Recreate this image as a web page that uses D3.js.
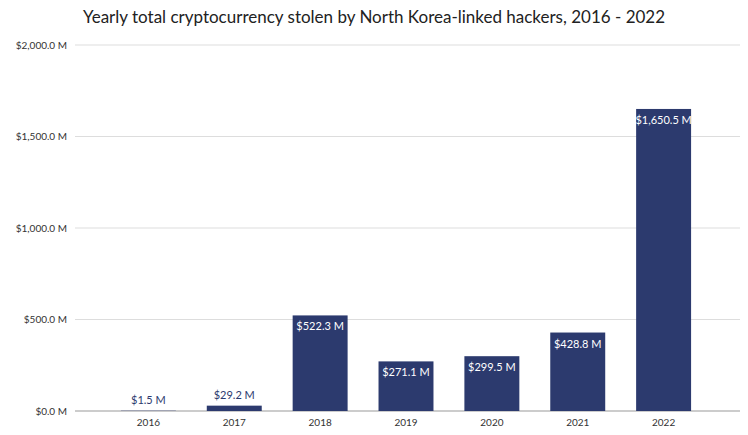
<!DOCTYPE html>
<html>
<head>
<meta charset="utf-8">
<script src="https://cdn.jsdelivr.net/npm/d3@7"></script>
<style>
  body { margin: 0; background: #fff; font-family: Lato, "Open Sans", sans-serif; }
</style>
</head>
<body>
<div id="chart"></div>
<script>
// data
var years = ["2016", "2017", "2018", "2019", "2020", "2021", "2022"];
var stolen = [1.5, 29.2, 522.3, 271.1, 299.5, 428.8, 1650.5];
var yTicks = [0, 500, 1000, 1500, 2000];

var width = 748, height = 435;
var margin = {top: 45, right: 8, bottom: 24, left: 75};

var svg = d3.select("#chart").append("svg")
    .attr("width", width).attr("height", height);

svg.append("text")
    .attr("x", width / 2).attr("y", 23)
    .attr("text-anchor", "middle")
    .style("font-size", "17px").style("fill", "#222")
    .text("Yearly total cryptocurrency stolen by North Korea-linked hackers, 2016 - 2022");

var x = d3.scaleBand().domain(years).range([90, 722]).padding(0.36);
var y = d3.scaleLinear().domain([0, 2000]).range([height - margin.bottom, margin.top]);

var fmt = function(v) { return "$" + d3.format(",.1f")(v) + " M"; };

// gridlines
svg.append("g").selectAll("line").data(yTicks).enter().append("line")
    .attr("x1", margin.left).attr("x2", width - margin.right)
    .attr("y1", function(d) { return y(d); }).attr("y2", function(d) { return y(d); })
    .attr("stroke", function(d) { return d === 0 ? "#999" : "#ddd"; })
    .attr("stroke-width", 1);

// y axis labels
var yAxis = svg.append("g").attr("transform", "translate(" + (margin.left - 5) + ",0)")
    .call(d3.axisLeft(y).tickValues(yTicks).tickFormat(fmt).tickSize(0));
yAxis.select(".domain").remove();
yAxis.selectAll("text").style("font-size", "10px").style("fill", "#333")
    .style("font-family", "Lato, sans-serif");

// x axis labels
var xAxis = svg.append("g").attr("transform", "translate(0," + y(0) + ")")
    .call(d3.axisBottom(x).tickSize(0).tickPadding(8));
xAxis.select(".domain").remove();
xAxis.selectAll("text").style("font-size", "10px").style("fill", "#333")
    .style("font-family", "Lato, sans-serif");

// bars
svg.append("g").selectAll("rect").data(stolen).enter().append("rect")
    .attr("x", function(d, i) { return x(years[i]); })
    .attr("width", x.bandwidth())
    .attr("y", function(d) { return y(d); })
    .attr("height", function(d) { return y(0) - y(d); })
    .attr("fill", "#2c3a6e");

// value labels
svg.append("g").selectAll("text").data(stolen).enter().append("text")
    .attr("x", function(d, i) { return x(years[i]) + x.bandwidth() / 2; })
    .attr("y", function(d) { return y(0) - y(d) > 25 ? y(d) + 15 : y(d) - 7; })
    .attr("text-anchor", "middle")
    .style("font-size", "11px")
    .style("fill", function(d) { return y(0) - y(d) > 25 ? "#fff" : "#2c3a6e"; })
    .text(fmt);
</script>
</body>
</html>
